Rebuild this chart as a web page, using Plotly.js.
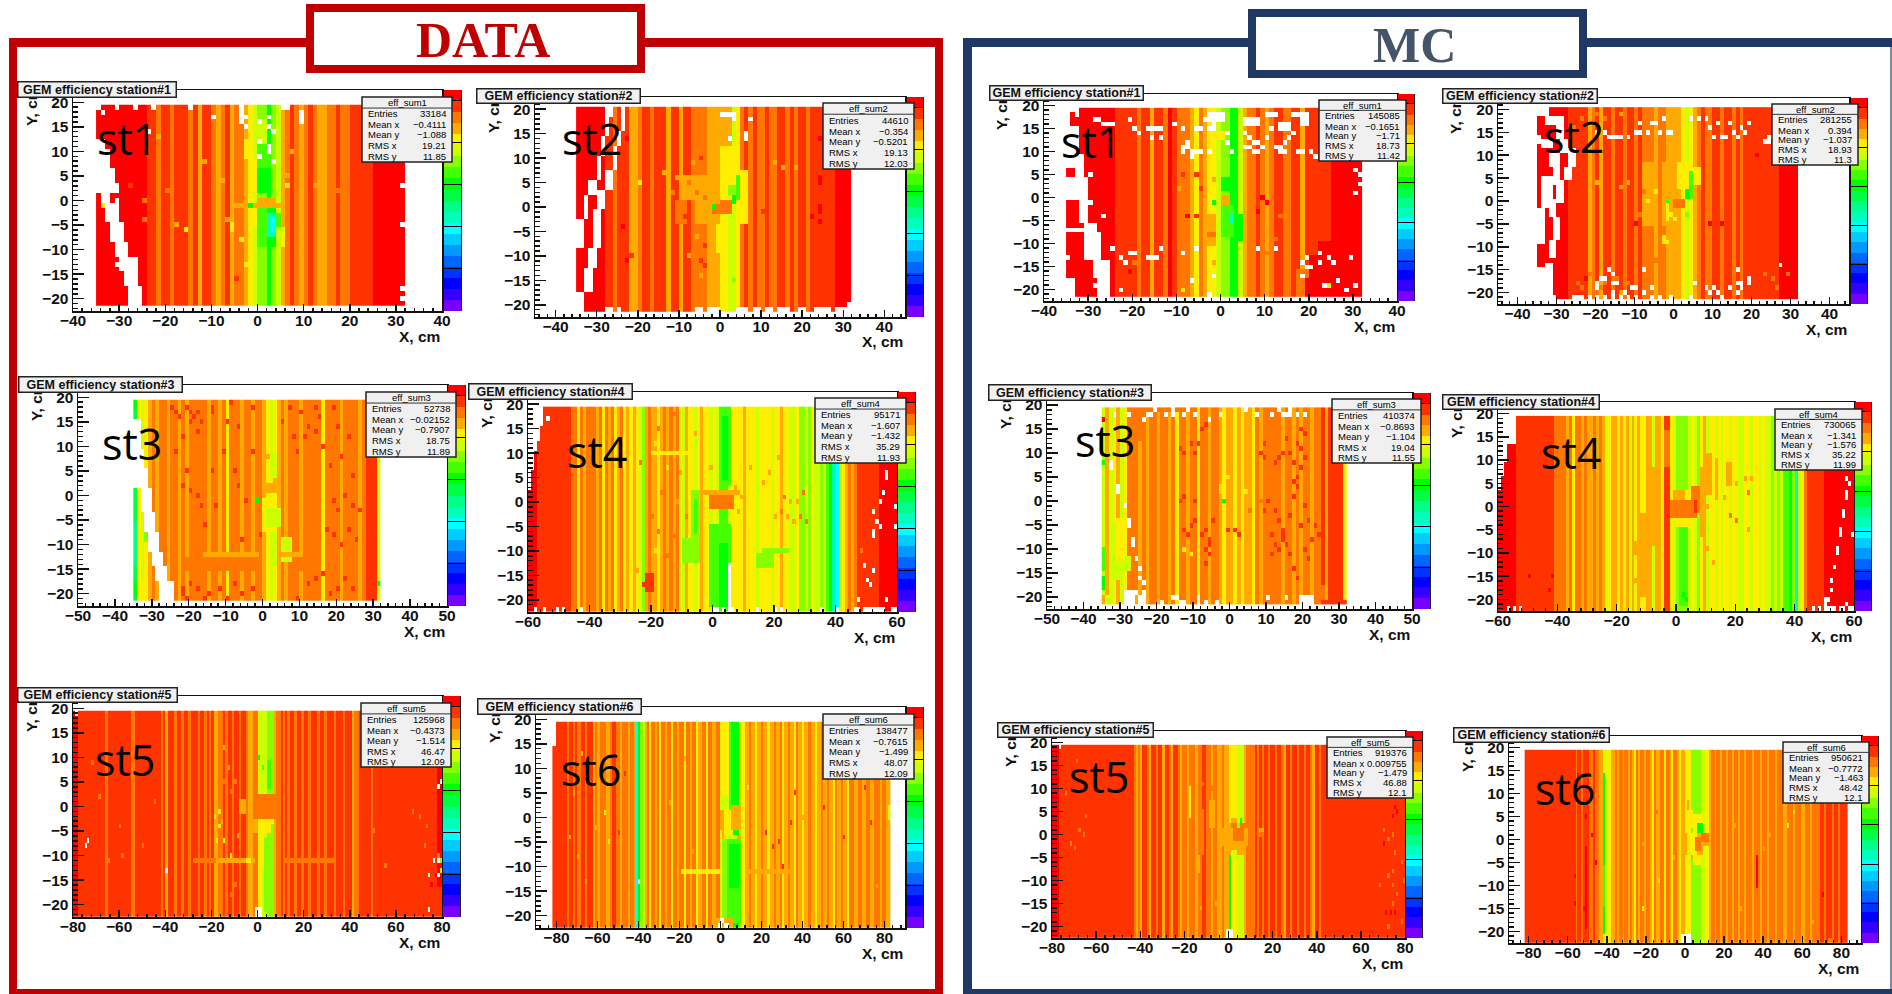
<!DOCTYPE html>
<html><head><meta charset="utf-8">
<script src="https://cdn.plot.ly/plotly-3.0.1.min.js"></script>
<style>html,body{margin:0;padding:0;background:#fff}#c{width:1892px;height:994px}</style>
</head><body><div id="c"></div>
<script>
// efficiency values of the 20 palette levels
const R=1.02,Q=.97,O=.92,A=.865,Y=.81,L=.76,M=.705,N=.655,G=.60,H=.55,J=.50,K=.445,C=.39,W=null;
const paletteColors=['#7700ff','#3300ff','#0000ff','#0033ff','#0066ff','#0099ff','#00ccff','#00ffff','#00ffbb','#00ff88','#00ff44','#00ff00','#44ff00','#88ff00','#ccff00','#ffee00','#ffaa00','#ff7700','#ff3300','#ff0000'];
const effMax=1.05;

// ---- DATA station 1
const d1Strips=[-35,R,-24,Q,-22,O,-21,Q,-19,O,-18,Q,-15,O,-14,Q,-13,A,-12,Q,-10,O,-9,A,-8,O,-7,Q,-6,A,-5,O,-3,A,-2,Y,-1,L,0,M,2,G,3,M,4,L,5,A,6,O,7,Q,8,O,9,A,10,O,11,Q,12,O,13,A,15,O,17,Q,18,O,20,Q,25,R];
const d1Patches=[[-35,-35,2,12,W],[-34,-34,2,12,W],[-33,-33,2,10,W],[-32,-32,2,6,W],[-31,-31,2,3,W],[-34,-33,0,1,W],[-31,-31,0,0,W],[-33,-31,-4,-1,W],[-32,-30,-8,-5,W],[-31,-29,-11,-9,W],[-30,-27,-14,-12,W],[-29,-27,-17,-15,W],[-28,-26,-21,-18,W],
[-6,5,-1,-1,A],[0,2,-1,0,O],[0,1,-9,-2,N],[2,3,-9,-2,G],[4,4,-7,-3,N],[2,3,-7,-3,K],[3,3,-6,-4,C],[-2,-1,-5,-2,Y],[4,5,-8,-6,L],[5,5,-9,-7,Y],[0,2,2,6,G],[0,2,7,11,N],[-2,-1,2,8,Y],[0,1,12,16,L],[-3,-2,9,12,Y],[0,3,-1,0,A],[9,9,16,18,W],[5,6,19,19,W],[-31,-31,19,19,W],[-27,-27,19,19,W],[-23,-23,19,19,W],[-15,-15,19,19,W],[-4,-4,17,19,W],[-35,-35,19,19,W]];
const d1Dots=[-34,-1,Y,-16,-6,Y,-2,-1,G,-6,-6,Y,-6,-5,Y,-24,14,Q,-22,13,A,-22,5,O,-20,2,O,-18,-5,A,-12,8,A,-9,5,A,-8,4,A,-7,-4,A,-4,-8,Y,-3,-13,Y,7,10,A,6,5,A,6,3,Y,8,1,O,8,-6,O,12,3,A,15,-1,O,16,-5,O,17,2,O,-11,-14,Q,-5,-16,Q,-28,3,Q,-25,0,O,-25,-4,O];
const d1Holes=[-34,18,-10,17,-3,17,-4,16,-3,15,2,17,0,16,2,15,3,14,0,12,2,11,2,10,0,9,3,8,-24,14,-31,-13,31,3,31,-5,31,-18,31,-20];
// ---- DATA station 2
const d2Strips=[-35,R,-28,Q,-26,O,-25,Q,-22,A,-20,O,-19,Q,-17,O,-16,Q,-13,A,-12,Q,-10,A,-9,Q,-7,O,-5,O,-3,A,0,Y,2,L,4,Y,5,O,6,Q,7,O,8,Q,9,O,10,O,11,Q,12,O,14,Q,16,O,17,Q,18,O,19,Q,21,O,22,Q,28,R];
const d2Patches=[[-28,-27,19,20,W],[-24,-24,16,20,W],[-28,-28,15,18,W],[-25,-25,13,15,W],[-29,-29,11,14,W],[-26,-26,8,12,W],[-30,-30,6,10,W],[-28,-27,4,7,W],[-32,-31,3,5,W],[-30,-29,0,3,W],[-33,-33,-2,2,W],[-31,-30,-8,-1,W],[-35,-34,-8,-3,W],[-32,-31,-12,-9,W],[-33,-32,-17,-13,W],[-35,-34,-21,-18,W],
[-6,-3,-3,6,A],[-9,-7,2,6,A],[-11,-9,-3,1,O],[-2,-1,-1,0,O],[0,2,-1,1,O],[3,4,2,6,N],[3,3,1,4,G],[2,3,3,4,M],[0,3,5,12,Y],[5,6,-3,7,Y],[0,2,13,20,A],[-1,1,-9,-4,Y],
[0,2,19,19,W],[3,3,18,19,W],[-28,-27,-21,-21,W],[-25,-25,-21,-21,W],[-6,-5,-21,-21,W],[-3,-1,-21,-21,W],[4,6,-21,-21,W],[8,9,-21,-21,W],[11,12,-21,-21,W],[14,16,-21,-21,W],[19,20,-21,-21,W],[23,26,-21,-21,W],[28,31,-21,-21,W],[31,31,-20,-20,W]];
const d2Dots=[-2,0,G,3,-15,M,-20,5,Y,-23,-8,Q,-23,-9,Q,-22,-10,Q,-23,-11,R,-5,10,Q,22,6,Q,24,6,R,24,5,R,24,0,R,24,-1,R,24,-3,R,22,-2,R,-24,-4,R,-19,-5,Q,-9,-2,Q,-4,-8,Q,-4,-12,Q,-5,-11,Q,13,9,A,15,8,A,18,8,A,-8,5,O,-6,3,O,-4,2,O,10,-1,Q,8,-2,Q,24,14,R,-23,14,R,-14,7,A,-12,3,O,-11,6,A,-10,9,A,-7,9,A,-3,-6,A,-6,-6,A,-8,-10,A,-5,-14,A,-2,-16,A,-1,-12,A];
const d2Holes=[7,18,6,15,6,14,2,14];
// ---- DATA station 3
const d3Strips=[-35,H,-34,Y,-33,L,-32,Y,-31,A,-30,O,-29,A,-28,O,-26,A,-25,O,-23,A,-22,O,-21,A,-20,O,-15,A,-14,O,-12,A,-11,O,-10,Y,-9,O,-6,A,-5,O,-3,A,-2,O,0,A,1,Y,2,L,3,Y,4,A,5,O,6,A,7,O,10,A,11,O,16,Y,17,O,21,A,22,O,26,A,27,O,28,Q,31,L];
const d3Patches=[[-35,-34,2,15,W],[-33,-33,2,9,W],[-32,-32,2,5,W],[-33,-31,-3,1,W],[-32,-30,-7,-4,W],[-31,-29,-11,-8,W],[-30,-28,-14,-12,W],[-29,-27,-17,-15,W],[-28,-25,-21,-18,W],
[-22,-3,-15,-13,O],[-16,-2,-12,-12,A],[0,3,-7,-1,Y],[1,4,-6,-3,L],[2,3,-14,-8,L],[1,3,1,8,A],[1,2,3,7,Y],[2,3,4,8,L],[5,7,-13,-9,L],[8,15,-15,-13,O],[5,10,-12,-12,A],[-34,-33,-21,-18,Y],[-35,-35,-20,-18,G],[-35,-35,-14,-6,J],[-35,-35,18,19,G]];
const d3Dots=[-2,-1,G,31,-18,G,-32,-9,M,-32,-8,M,-25,18,Q,-24,17,Q,-23,16,Q,-21,18,Q,-20,17,Q,-19,16,Q,-20,15,Q,-18,13,Q,-18,17,Q,-17,15,Q,-14,17,Q,-14,18,Q,-10,15,Q,-9,19,Q,-7,14,Q,-3,18,Q,-22,12,Q,-24,9,Q,-21,5,Q,-18,0,Q,-17,-2,Q,-22,2,Q,-20,1,Q,-16,-6,Q,-13,-2,Q,-14,5,Q,-11,9,Q,-8,5,Q,-7,2,Q,-5,-1,Q,-6,-9,Q,-3,9,Q,-1,-8,Q,8,12,Q,9,9,Q,11,12,Q,12,14,Q,14,13,Q,16,10,Q,18,6,Q,20,14,Q,21,8,Q,23,12,Q,24,4,Q,19,-1,Q,20,-3,Q,22,0,Q,24,-2,Q,26,-3,Q,17,-7,Q,19,-8,Q,21,-10,Q,23,-7,Q,25,-9,Q,12,-18,Q,14,-17,Q,16,-16,Q,18,-20,Q,20,-19,Q,22,-17,Q,24,-19,Q,-22,-20,Q,-20,-18,Q,-18,-19,Q,-15,-20,Q,-12,-19,Q,-10,-21,Q,-8,-18,Q,-6,-20,Q,-3,-19,Q,9,-21,Q,-22,-19,Q,-21,-21,Q,-16,-21,Q,5,15,Q,7,18,Q,10,17,Q,14,18,Q,15,16,Q,19,18,Q];
const d3Holes=[];
// ---- DATA station 4
const d4Strips=[-60,R,-57,Q,-46,O,-44,Y,-43,O,-42,A,-41,O,-38,A,-37,O,-36,Y,-35,O,-34,A,-33,O,-32,Y,-31,A,-30,O,-29,Y,-28,A,-27,Y,-26,A,-25,Y,-24,L,-23,M,-22,A,-21,O,-20,A,-18,Y,-17,A,-16,O,-15,A,-14,O,-13,A,-12,O,-11,Y,-10,L,-9,A,-8,Y,-6,L,-5,Y,-4,A,-3,Y,-1,L,0,Y,1,L,2,N,5,L,6,Y,10,A,11,Y,14,L,15,Y,19,L,20,Y,22,A,23,Y,25,L,27,Y,28,M,30,L,31,M,32,Y,33,L,35,M,36,L,37,N,38,G,39,K,40,C,41,L,42,Y,43,A,44,O,45,A,46,O,47,Q,54,R];
const d4Patches=[[-60,-56,16,19,W],[-60,-57,13,15,W],[-60,-58,11,12,W],[-60,-59,7,10,W],[-60,-60,3,6,W],
[-1,6,-1,1,O],[-3,8,2,2,A],[2,5,4,19,N],[3,4,5,17,G],[-1,5,-21,-5,N],[2,4,-21,-9,G],[-7,-5,-12,2,M],[-6,-6,-6,0,N],[-10,-7,-12,-8,M],[14,19,-13,-11,M],[16,24,-10,-10,M],[5,5,-21,-13,W],[-20,-8,10,10,Y],[-22,-20,-18,-15,Q]];
const d4Dots=[-25,-14,A,-23,-17,Q,-22,-16,Q,-20,-12,A,-19,-10,Y,-24,8,O,-18,15,O,-13,18,O,-6,14,A,-1,7,A,10,5,A,12,7,A,16,4,A,18,6,A,21,9,A,23,1,O,25,0,A,27,0,A,29,2,O,30,-4,O,28,-3,O,32,8,Y,48,-10,O,50,-15,Q,53,8,Q,51,-12,Q,-20,-3,O,-18,-6,O,-17,2,O,-15,7,Y,-13,-7,O,-12,0,A,-11,6,A,-9,-3,O,-19,12,Y,-15,-11,O,8,-2,A,9,1,A,7,3,A,20,-3,A,22,-2,O,24,-3,A,26,-4,A];
const d4Holes=[-54,17,56,5,56,6,55,2,54,0,59,-1,52,-2,53,-4,54,-5,59,-5,52,-6,52,-7,49,-13,52,-14,50,-16,51,-17,47,-20,56,-20,-58,-22,-55,-22,-51,-22,-49,-22,-43,-22,0,-22,1,-22,3,-22,5,-22,6,-22,14,-22,20,-22,22,-22,35,-22,40,-22,46,-22,47,-22,49,-22,50,-22,51,-22,52,-22,53,-22,54,-22,55,-22,58,-22,59,-22];
// ---- DATA station 5
const d5Strips=[-80,R,-78,Q,-67,Q,-66,O,-65,Q,-55,O,-53,Q,-42,O,-41,Q,-40,A,-39,Q,-36,O,-35,Q,-33,O,-32,Q,-30,O,-29,Q,-26,O,-25,Q,-23,O,-22,Q,-21,O,-20,Q,-19,A,-17,O,-15,Q,-14,O,-13,Q,-11,O,-10,Q,-8,O,-7,Q,-5,O,-4,A,-2,O,0,Y,2,L,4,M,7,A,8,O,10,Q,11,O,12,Q,13,O,14,Q,16,O,17,Q,19,O,20,Q,22,O,23,Q,26,O,27,Q,29,O,30,Q,33,O,34,Q,37,O,38,Q,41,A,42,O,44,Q,49,O,50,Q,78,R];
const d5Patches=[[0,7,-2,2,O],[0,7,3,3,A],[0,1,3,19,L],[2,3,3,19,L],[4,6,3,19,M],[4,5,4,9,N],[0,6,-3,-3,Y],[3,5,-5,-3,Y],[-2,-1,-5,-3,A],[-28,-1,-11,-11,O],[-18,-2,-11,-11,A],[12,32,-11,-11,O],[-1,1,-22,-21,W],[-19,-19,7,12,A],[-8,-6,-1,1,A],[0,2,-12,-4,Y],[0,0,-11,-5,L],[3,6,-21,-7,M],[78,79,-22,-17,Q],[72,76,-22,-14,Q]];
const d5Dots=[-19,-2,Y,-17,-4,Y,-18,-7,Y,-15,-7,Y,-12,-10,Y,-5,-11,Y,-4,-11,Y,0,-8,L,0,10,G,2,8,N,-72,9,O,-69,2,O,-60,-4,O,-59,-10,O,-65,-11,O,-50,-8,O,-45,1,O,-15,12,A,-13,8,A,-10,5,O,-16,4,O,-9,-6,A,-14,-15,O,-12,-18,O,-10,-16,O,50,-5,O,55,-12,O,67,-1,O,70,-2,O,73,-4,O,78,-10,O,79,-11,M,79,-13,Y,74,-14,R,75,-16,R,77,-14,R,72,-8,O,-18,2,A,-17,-1,Y,-16,-3,A,-15,5,O,-12,3,O];
const d5Holes=[-74,-7,-75,-8,-40,-13,78,-11,76,-11,74,-14,78,-14,79,5,78,4,74,-21,-79,19];
// ---- DATA station 6
const d6Strips=[-82,Q,-75,O,-74,Q,-72,O,-71,Q,-70,O,-68,Q,-66,O,-65,Q,-62,A,-61,O,-60,A,-59,O,-56,A,-54,O,-53,Q,-51,O,-49,A,-48,O,-45,A,-44,O,-42,A,-41,C,-40,G,-39,M,-38,L,-37,A,-36,O,-35,Y,-34,O,-32,A,-31,O,-30,Y,-29,O,-27,A,-26,O,-24,Y,-23,O,-21,A,-20,O,-18,Y,-17,O,-15,A,-14,O,-12,Y,-11,A,-9,O,-7,Y,-6,O,-4,A,-2,O,0,Y,1,A,2,L,4,N,5,G,9,L,10,Y,12,A,14,O,15,A,17,Y,18,A,20,O,21,A,23,Y,24,A,26,O,27,A,29,O,30,Y,31,A,33,O,34,A,36,Y,37,O,38,A,40,Y,41,A,43,O,44,A,46,Y,47,A,49,O,50,A,52,O,53,A,55,Y,56,O,57,A,59,O,60,A,62,Y,63,O,65,A,67,O,69,A,71,O,73,A,75,O,78,A,79,O,81,A];
const d6Patches=[[-82,-81,15,19,W],[-82,-82,15,19,W],[0,9,-2,1,A],[2,5,-4,1,Y],[5,9,-2,2,A],[0,3,2,19,Y],[0,3,2,4,L],[1,3,-21,-5,M],[3,9,-21,-5,N],[4,8,-14,-6,G],[3,3,-4,-3,L],[4,7,-4,-4,L],[8,9,-4,-4,A],[-19,-1,-11,-11,Y],[14,34,-11,-11,A],[-2,5,-22,-21,A],[-1,0,-22,-22,W],[0,1,-21,-21,W],[2,3,-22,-22,W],[82,82,0,2,L]];
const d6Dots=[-74,-4,A,-72,5,A,-70,-8,A,-68,13,A,-66,-13,A,-64,7,A,-61,-2,A,-57,1,Y,-55,-5,Y,-52,-17,Q,-50,-3,Q,-47,9,Q,-3,9,A,-18,12,A,-25,3,A,-14,-7,A,13,6,Y,22,-3,Q,25,-6,Q,28,-5,Q,30,-10,Q,34,-1,Q,36,5,Q,40,0,A,45,8,A,50,2,Q,60,-4,Q,65,-8,A,70,6,Q,73,-1,Q,76,-14,A];
const d6Holes=[-40,-13];
// ---- MC station 1
const m1Strips=[-35,R,-24,Q,-19,O,-18,Q,-16,A,-15,Q,-13,O,-12,R,-11,Q,-10,O,-7,A,-6,Y,-5,O,-4,A,-3,Y,-1,L,0,M,2,G,4,L,5,A,6,O,8,Q,9,O,10,A,11,O,12,Q,14,O,16,Q,18,A,19,Q,25,R];
const m1Patches=[[-35,-33,19,19,W],[-35,-35,7,18,W],[-35,-34,7,15,W],[-33,-33,5,15,W],[-32,-32,5,9,W],[-32,-31,-1,4,W],[-35,-31,0,4,W],[-32,-31,-5,-2,W],[-31,-30,-1,-1,W],[-31,-29,-7,-6,W],[-35,-30,-7,-7,W],[-31,-28,-13,-8,W],[-29,-26,-17,-14,W],[-28,-26,-21,-18,W],[-35,-34,-21,-18,W],[-35,-35,-13,-13,W],
[-3,0,17,18,W],[-2,-2,15,18,W],[5,8,16,17,W],[10,12,18,18,W],[13,15,15,16,W],[16,19,18,18,W],[18,19,16,17,W],[-2,0,13,14,Y],[0,2,2,5,G],[0,1,5,10,M],[-3,-2,-1,1,Y],[0,1,-1,0,A],[2,3,-7,-1,G],[2,4,-9,-4,G],[-4,-2,-10,-4,A],[0,2,-8,-2,N],[25,31,-21,-10,R],[22,25,-21,-10,R],[20,21,-21,-13,R],[17,19,-21,-16,O],[19,31,-21,-18,R]];
const m1Dots=[-2,-1,G,2,-5,K,2,-4,K,24,-19,L,-2,4,A,-2,-8,O,-3,-8,O,-6,5,Q,-5,2,Q,-9,5,Q,-10,2,A,8,-3,R,-6,-4,Q,-8,-4,R,-20,-14,O,-21,-16,R,-19,-17,O,-10,-19,O,-9,-20,Y,-2,-14,A,-6,-14,Y,9,0,R,10,-1,R,13,-4,O,15,-4,O,12,-9,O,10,-12,O];
const m1Holes=[-33,18,-29,17,-28,17,-27,16,-26,16,-25,16,-21,17,-20,15,-19,14,-16,15,-15,15,-14,15,-11,16,-9,15,-6,15,-5,15,-4,17,-3,15,-17,15,-16,13,-14,13,-9,11,-9,10,-8,12,-8,11,-7,10,-6,10,-7,9,-5,10,-3,10,1,14,1,12,2,10,5,14,6,13,5,11,6,11,7,10,8,10,7,12,8,12,9,11,10,13,11,15,12,11,13,11,13,10,14,12,15,13,16,14,17,10,18,10,14,10,20,10,21,9,30,6,31,5,30,1,31,3,-27,-4,-30,5,-21,-12,-20,-12,-17,-13,-16,-13,-15,-13,-23,-13,-25,-11,-22,-14,-14,-11,-9,-12,-7,-18,-6,-11,-2,-17,8,-11,12,-11,18,-14,19,-13,19,-15,20,-15,22,-14,22,-12,24,-13,25,-14,29,-13,18,-17,26,-18,28,-20,30,-19,23,-19,-29,-19,-23,-20,-3,-21,1,-22];
// ---- MC station 2
const m2Strips=[-35,R,-27,Q,-22,A,-21,O,-20,Q,-19,A,-18,Q,-16,O,-15,Q,-13,O,-12,Q,-10,O,-9,Q,-8,O,-5,A,-4,O,-2,A,0,A,1,A,2,Y,3,L,4,Y,5,A,6,O,7,Q,8,O,10,Q,12,O,13,Q,15,O,16,Q,17,O,18,Q,20,Q,27,R];
const m2Patches=[[-35,-33,20,20,W],[-35,-33,19,19,W],[-33,-32,17,18,W],[-31,-29,17,18,W],[-30,-29,14,16,W],[-34,-32,12,13,W],[-35,-35,13,14,W],[-29,-28,11,13,W],[-32,-30,8,10,W],[-27,-26,8,11,W],[-31,-30,4,7,W],[-28,-27,5,7,W],[-34,-32,1,5,W],[-30,-29,0,4,W],[-34,-33,-1,0,W],[-32,-31,-3,0,W],[-35,-34,-2,-2,W],[-35,-34,-9,-3,W],[-31,-30,-8,-4,W],[-32,-31,-12,-9,W],[-33,-32,-21,-14,W],[-35,-34,-21,-15,W],[-31,-31,-21,-21,W],
[-8,-5,-5,8,A],[-3,-1,-5,8,A],[3,4,1,6,N],[3,3,1,3,G],[1,3,3,8,Y],[5,6,4,7,Y],[0,2,-1,0,O],[-2,-1,0,0,A],[-2,-2,-4,0,Y],[-1,-1,-3,-3,Y],[20,27,-21,-15,Q],[27,31,-21,-15,R]];
const m2Dots=[-2,0,N,3,-3,M,-3,-9,Y,-2,-9,Y,0,-4,Y,-9,-3,O,-7,0,Y,-5,2,Y,-8,2,O,21,10,R,-3,-8,Y,-6,-12,O,-5,-13,O,-10,-5,R,-12,4,A,-20,4,A,-14,3,A,9,-5,R,12,-5,R,-25,-18,O,-23,-17,R,-20,-20,O,-18,-18,O,23,-16,O,25,-17,O,26,-19,O,29,-16,O,-24,-19,O,-22,-16,O,-19,-19,O,-15,-17,O,-14,-20,A,-12,-18,O,-26,16,O,-24,18,O,-22,17,A,-20,19,O,-18,18,O,-16,17,O,-14,19,A];
const m2Holes=[-17,-15,-16,-16,-18,-17,-16,-18,-15,-18,-16,-20,-19,-17,-20,-19,-20,-18,-26,-21,-25,-21,-24,-21,-22,-21,-20,-21,-18,-21,-16,-21,-14,-21,-12,-21,-10,-21,-6,-21,-8,-20,-11,-19,-13,-20,-8,-15,-10,-19,-6,-19,-1,-21,-4,-21,4,-21,5,-18,8,-19,9,-20,10,-19,11,-20,12,-21,16,-15,16,-18,17,-18,17,-19,19,-17,19,-18,14,-19,16,-20,27,-14,-3,18,-1,15,4,18,6,18,8,18,9,16,10,14,11,17,12,14,13,14,14,17,15,15,16,14,17,16,18,15,19,17,-9,17,-7,15,-6,17,-5,17,-4,15,-2,15,-20,15,-18,15,-17,14,-16,14,-15,14,-14,14,-12,14,-10,15,-9,15,23,13,24,13,24,14,25,14,26,14,27,14];
// ---- MC station 3
const m3Strips=[-35,L,-34,A,-33,L,-32,Y,-31,A,-30,L,-29,Y,-28,O,-26,O,-25,A,-24,O,-23,A,-22,O,-20,A,-19,O,-17,A,-16,O,-15,Y,-14,O,-12,A,-11,O,-9,Y,-8,O,-6,A,-5,O,-3,A,-2,Y,-1,A,0,A,1,Y,2,A,3,Y,4,A,6,Y,7,O,8,A,9,O,14,A,15,O,17,A,18,O,19,A,20,O,22,A,23,O,25,Q,26,A,27,Q,31,Y];
const m3Patches=[[-35,-35,17,17,R],[-35,-35,-21,-20,A],[-34,-33,-21,-20,L],[-28,-26,-21,-19,A],[-27,-26,-19,-19,W],[-24,-24,-21,-19,W],[-25,-25,-21,-20,W],[-29,-27,-21,-19,W],[-29,-28,-14,-12,L],[-32,-31,-16,-5,L],[-31,-30,-12,-4,Y],[-35,-35,8,8,G],[-35,-35,-14,-10,N],[-35,-35,-18,-16,G],[-26,-25,13,19,O],[-24,-14,19,19,O],[24,26,-21,-21,O],[19,22,-21,-20,W],[25,31,-21,-21,Q],[24,25,-20,-18,O]];
const m3Dots=[-2,0,G,2,3,A,4,2,Y,-3,2,Y,-3,3,Y,-2,4,Y,-1,5,Y,-2,-5,Y,-13,-10,Y,-11,-11,Y,-10,-11,O,-13,1,Q,-14,0,Q,-10,0,Q,-12,-7,Q,-13,-6,Q,-11,-5,Q,-14,-2,O,-8,-7,Q,-7,-6,Q,-6,-8,Q,-6,-9,Q,-7,-10,Q,-6,-11,Q,-7,-13,Q,-5,-4,Q,-10,-4,Q,-11,12,Q,-14,11,Q,-13,10,Q,-10,10,Q,-9,12,Q,-8,15,Q,-7,16,Q,2,-7,Q,1,-6,Q,-1,-6,Q,5,-2,O,8,0,O,9,-2,Q,10,0,Q,12,-2,Q,13,-4,Q,14,-6,Q,14,-7,Q,15,-9,Q,16,-3,Q,17,1,Q,18,3,Q,17,4,Q,18,5,Q,19,7,Q,20,9,Q,15,13,Q,16,10,Q,17,8,Q,18,12,Q,19,11,Q,19,15,Q,20,14,Q,9,12,Q,9,9,Q,8,10,Q,12,8,Q,13,9,Q,14,10,Q,20,-1,Q,21,-4,Q,23,-5,Q,24,-7,Q,20,-10,Q,21,-12,Q,22,-8,Q,11,-7,Q,12,-9,Q,13,-10,Q,14,-8,Q,11,-11,Q,16,-11,Q,17,-14,Q,18,-16,Q,19,-5,Q];
const m3Holes=[-33,8,-33,7,-31,3,-31,2,-29,-1,-28,-4,-28,-5,-27,-8,-27,-9,-26,-12,-25,-14,-25,-16,-24,-17,-32,18,-28,18,-24,17,-23,18,-22,18,-21,19,-18,18,-16,19,-16,18,-13,18,-12,19,-10,18,-6,17,-3,18,4,19,7,18,11,18,13,19,14,18,15,18,16,19,16,18,18,18,20,18,-19,-21,-15,-20,-14,-21,-9,-21,-9,-20,-7,-21,-4,-21,10,-20,15,-20,-16,-20,-13,-21];
// ---- MC station 4
const m4Strips=[-60,R,-54,Q,-41,O,-37,A,-36,O,-35,Y,-34,O,-32,A,-31,O,-30,A,-28,O,-27,A,-26,O,-25,A,-24,L,-23,Y,-22,A,-20,Y,-19,A,-18,Y,-17,A,-16,L,-15,A,-14,Y,-13,A,-12,Y,-10,A,-8,L,-7,A,-5,Y,-4,Q,-2,Y,-1,L,0,M,4,L,5,Y,6,L,7,M,8,Y,9,A,10,L,11,Y,13,L,14,Y,15,L,16,Y,18,L,19,Y,21,L,23,Y,25,L,26,Y,28,L,29,Y,30,L,32,M,33,L,34,M,35,L,36,N,38,G,39,M,40,K,41,L,42,Y,43,O,44,Q,50,R];
const m4Patches=[[-60,-55,14,19,W],[-60,-56,14,19,W],[-60,-58,10,13,W],[-60,-59,7,9,W],[-60,-60,4,6,W],[-4,-3,9,16,O],[0,5,-4,3,Y],[-2,6,-2,1,O],[-1,2,2,3,A],[5,7,-1,4,O],[6,6,-1,1,Q],[1,3,-21,-5,N],[8,9,-6,8,A],[10,11,3,11,A],[13,13,2,10,A],[17,18,5,9,A],[-14,-13,-10,-8,A],[-8,-8,-8,8,A],[-6,-6,-8,8,A],[-12,-11,-19,-2,A]];
const m4Dots=[-42,-15,R,-43,-18,R,-50,-15,R,-57,-12,R,3,-20,G,2,-19,G,12,-12,A,10,-9,A,18,-2,O,20,-3,O,24,-5,A,24,3,O,25,6,A,23,6,A,20,5,A,16,2,A,10,0,A,-13,-13,A,-14,-16,A,-6,4,A];
const m4Holes=[57,6,58,5,57,3,57,2,56,-1,56,-2,55,-5,55,-6,54,-9,54,-10,59,-6,53,-13,52,-16,52,-18,50,-20,51,-20,50,-21,57,-21,50,-22,51,-22,52,-22,53,-22,55,-22,56,-22,58,-22,59,-22,46,-22,48,-22,-55,-22,-53,-22,-57,-22];
// ---- MC station 5
const m5Strips=[-80,R,-77,Q,-43,O,-42,A,-41,O,-40,A,-39,Q,-37,O,-36,A,-35,Q,-33,O,-32,Q,-30,A,-29,Q,-27,O,-26,A,-25,Q,-23,O,-22,A,-21,O,-19,A,-18,O,-15,A,-14,O,-12,Q,-10,O,-8,A,-7,O,-5,A,-3,O,-2,A,0,G,1,Y,4,L,7,A,8,O,12,Q,13,O,14,Q,15,O,16,Q,18,O,19,Q,21,O,22,Q,24,O,25,A,26,Q,28,O,29,Q,31,O,32,Q,34,O,35,Q,37,O,38,A,39,Q,41,O,42,Q];
const m5Patches=[[0,7,-2,2,O],[1,7,-3,-3,A],[0,0,-4,4,A],[0,3,3,3,A],[0,0,3,19,Y],[4,5,-5,-3,Y],[2,3,-5,-4,L],[-3,8,-2,1,A],[2,6,-1,2,O],[4,6,-7,-3,A],[4,6,-8,-5,L],[-1,1,-22,-21,W],[-9,-9,2,7,A],[-7,-7,2,7,A],[-18,-18,4,10,Y],[-12,-12,-4,5,O],[-10,-10,-4,5,O],[-40,-40,-21,10,A],[-15,-14,-8,-5,A]];
const m5Dots=[5,3,G,4,2,M,14,1,A,15,1,A,14,0,O,-15,-13,A,-13,-16,A,-9,-10,O,-7,-12,O,-6,-15,A,-5,8,A,-8,10,O,-12,11,O,-10,-6,O,-72,-2,O,-70,-3,O,-68,1,O,-66,0,O,-74,9,O,-71,13,O,-69,16,O,-65,4,O,72,-1,O,74,0,O,70,1,O,75,-4,O,72,-9,O,74,-11,O,76,-13,O,71,-17,R,73,-17,R,75,-17,R,74,-15,O,72,-20,O,78,-19,O,76,5,R,74,4,R,75,6,R,68,-11,O,79,-10,O,74,-8,O,78,-6,O,70,-2,R];
const m5Holes=[-77,19];
// ---- MC station 6
const m6Strips=[-82,Q,-56,O,-55,Q,-53,O,-52,Q,-49,O,-47,Q,-46,O,-44,A,-42,Y,-41,L,-40,Y,-38,A,-36,O,-35,A,-34,O,-32,A,-31,O,-29,A,-28,O,-27,A,-26,Y,-25,O,-24,A,-23,O,-21,A,-20,O,-18,A,-17,Y,-16,O,-15,A,-13,O,-11,Y,-10,O,-8,A,-7,Y,-6,O,-4,A,-3,Y,-2,A,0,Y,2,Y,3,M,8,L,10,Y,12,A,13,O,15,A,16,O,18,A,19,O,21,A,22,O,24,A,25,O,27,A,28,O,30,A,31,O,34,A,35,O,38,A,39,O,42,A,43,O,46,A,47,O,50,A,52,O,55,A,56,O,59,A,61,O,64,A,65,O,69,Q,71,O,72,Q,73,O,76,Q,78,O,79,Q];
const m6Patches=[[-41,-41,-20,18,L],[-42,-42,-20,14,G],[-42,-42,-14,-6,N],[0,8,-3,1,A],[1,5,-3,1,Y],[5,7,-2,0,O],[4,8,2,5,Y],[6,8,2,3,G],[1,3,3,6,Y],[1,2,-5,-3,L],[3,7,-4,-4,A],[8,12,-1,1,A],[8,11,0,1,O],[4,7,-5,-4,Y],[0,1,-21,-4,Y],[-2,2,-22,-21,W],[36,36,-10,-4,R],[-51,-51,-19,-2,R],[72,74,-21,14,Q]];
const m6Dots=[1,8,A,1,7,A,-8,0,A,-6,-4,A,-15,6,O,-14,-9,Y,-22,-1,A,14,4,O,25,3,A,40,-2,A,43,1,A,52,3,Y,55,6,Y,-55,14,R,-57,-14,R,-57,-8,R,-51,5,R,-52,-15,R,-46,-5,R,-48,1,R,60,-3,A,65,-18,A,70,-12,R,28,-15,A,-29,10,A,-22,-15,Y];
const m6Holes=[];

// ---- titles and stat box readings
const stationNames=['GEM efficiency station#1','GEM efficiency station#2','GEM efficiency station#3','GEM efficiency station#4','GEM efficiency station#5','GEM efficiency station#6'];
const statLabels=['Entries','Mean x','Mean y','RMS x','RMS y'];
const dataEntries=['33184','44610','52738','95171','125968','138477'];
const dataMeanX=['−0.4111','−0.354','−0.02152','−1.607','−0.4373','−0.7615'];
const dataMeanY=['−1.088','−0.5201','−0.7907','−1.432','−1.514','−1.499'];
const dataRmsX=['19.21','19.13','18.75','35.29','46.47','48.07'];
const dataRmsY=['11.85','12.03','11.89','11.93','12.09','12.09'];
const mcEntries=['145085','281255','410374','730065','919376','950621'];
const mcMeanX=['−0.1651','0.394','−0.8693','−1.341','0.009755','−0.7772'];
const mcMeanY=['−1.71','−1.037','−1.104','−1.576','−1.479','−1.463'];
const mcRmsX=['18.73','18.93','19.04','35.22','46.88','48.42'];
const mcRmsY=['11.42','11.3','11.55','11.99','12.1','12.1'];

// ---- page layout (pixels on the page)
const W_PX=1892,H_PX=994;
const px=x=>x/W_PX, py=y=>1-y/H_PX;
const panels=[
{n:0,mc:0,xr:40,dx:10,xb:[-35,32],yb:[-21,19],s:d1Strips,p:d1Patches,d:d1Dots,h:d1Holes,l:73,r:442,t:90,b:311,cb:[444,461],tb:[17,177,81,98],sb:[362,452,97,162],st:[127,138]},
{n:1,mc:0,xr:45,dx:10,xb:[-35,32],yb:[-21,20],s:d2Strips,p:d2Patches,d:d2Dots,h:d2Holes,l:535,r:905,t:97,b:317,cb:[907,923],tb:[476,641,88,104],sb:[823,914,103,169],st:[592,139]},
{n:2,mc:0,xr:50,dx:10,xb:[-35,32],yb:[-21,19],s:d3Strips,p:d3Patches,d:d3Dots,h:d3Holes,l:78,r:447,t:385,b:606,cb:[448,465],tb:[18,183,376,393],sb:[366,456,392,457],st:[132,443]},
{n:3,mc:0,xr:60,dx:20,xb:[-60,60],yb:[-22,19],s:d4Strips,p:d4Patches,d:d4Dots,h:d4Holes,l:528,r:897,t:392,b:612,cb:[898,915],tb:[468,633,383,400],sb:[815,906,398,463],st:[597,451]},
{n:4,mc:0,xr:80,dx:20,xb:[-80,80],yb:[-22,19],s:d5Strips,p:d5Patches,d:d5Dots,h:d5Holes,l:73,r:442,t:696,b:917,cb:[443,460],tb:[17,178,687,703],sb:[361,451,703,767],st:[125,759]},
{n:5,mc:0,xr:90,dx:20,xb:[-82,83],yb:[-22,19],s:d6Strips,p:d6Patches,d:d6Dots,h:d6Holes,l:536,r:905,t:707,b:928,cb:[907,923],tb:[477,642,698,715],sb:[823,914,714,779],st:[591,769]},
{n:0,mc:1,xr:40,dx:10,xb:[-35,32],yb:[-21,19],s:m1Strips,p:m1Patches,d:m1Dots,h:m1Holes,l:1044,r:1397,t:94,b:301,cb:[1398,1414],tb:[989,1144,85,101],sb:[1319,1406,100,161],st:[1091,142]},
{n:1,mc:1,xr:45,dx:10,xb:[-35,32],yb:[-21,20],s:m2Strips,p:m2Patches,d:m2Dots,h:m2Holes,l:1498,r:1849,t:98,b:304,cb:[1851,1867],tb:[1442,1598,88,104],sb:[1772,1858,104,165],st:[1574,137]},
{n:2,mc:1,xr:50,dx:10,xb:[-35,32],yb:[-21,19],s:m3Strips,p:m3Patches,d:m3Dots,h:m3Holes,l:1047,r:1412,t:393,b:609,cb:[1414,1430],tb:[988,1152,384,401],sb:[1332,1421,399,463],st:[1105,440]},
{n:3,mc:1,xr:60,dx:20,xb:[-60,60],yb:[-22,19],s:m4Strips,p:m4Patches,d:m4Dots,h:m4Holes,l:1498,r:1854,t:402,b:611,cb:[1855,1871],tb:[1442,1600,394,410],sb:[1775,1862,409,470],st:[1571,452]},
{n:4,mc:1,xr:80,dx:20,xb:[-80,80],yb:[-22,19],s:m5Strips,p:m5Patches,d:m5Dots,h:m5Holes,l:1052,r:1405,t:731,b:938,cb:[1406,1422],tb:[997,1154,722,738],sb:[1327,1413,737,798],st:[1099,776]},
{n:5,mc:1,xr:90,dx:20,xb:[-82,83],yb:[-22,19],s:m6Strips,p:m6Patches,d:m6Dots,h:m6Holes,l:1509,r:1861,t:736,b:943,cb:[1862,1878],tb:[1453,1610,727,743],sb:[1783,1869,742,803],st:[1565,788]}
];

const colorscale=[];
paletteColors.forEach((c,k)=>{colorscale.push([k/20,c]);colorscale.push([(k+1)/20,c]);});

function buildGrid(P){
  const xs=[],ys=[];
  for(let x=P.xb[0];x<P.xb[1];x++)xs.push(x);
  for(let y=P.yb[0];y<=P.yb[1];y++)ys.push(y);
  const col={};
  let idx=0;
  xs.forEach(x=>{
    while(idx+2<P.s.length&&P.s[idx+2]<=x)idx+=2;
    col[x]=P.s[idx+1];
  });
  const z=ys.map(()=>xs.map(x=>col[x]));
  const set=(x,y,v)=>{const i=y-P.yb[0],j=x-P.xb[0];if(i>=0&&i<ys.length&&j>=0&&j<xs.length)z[i][j]=v;};
  P.p.forEach(q=>{
    for(let x=q[0];x<=q[1];x++)for(let y=Math.min(q[2],q[3]);y<=Math.max(q[2],q[3]);y++)set(x,y,q[4]);
  });
  for(let i=0;i<P.d.length;i+=3)set(P.d[i],P.d[i+1],P.d[i+2]);
  for(let i=0;i<P.h.length;i+=2)set(P.h[i],P.h[i+1],null);
  return {x:xs.map(x=>x+.5),y:ys,z};
}

const traces=[],annotations=[],shapes=[],layout={};
const DARK='#111';
const boldFont=s=>({family:'Liberation Sans, Arial, sans-serif',size:s,color:'#111',weight:700});

function bar(x0,y0,x1,y1,c){shapes.push({type:'rect',xref:'paper',yref:'paper',x0:px(x0),x1:px(x1),y0:py(y0),y1:py(y1),fillcolor:c,line:{width:0},layer:'below'});}
const RED='#c00000',NAVY='#1f3864';
bar(9,38,17,994,RED);bar(9,38,943,47,RED);bar(935,38,943,994,RED);bar(9,989,943,994,RED);
bar(306,4,645,73,RED);bar(314,12,637,65,'#ffffff');
bar(963,38,972,994,NAVY);bar(963,38,1892,47,NAVY);bar(963,989,1892,994,NAVY);bar(1890,47,1892,989,'#7f8ba3');
bar(1248,9,1587,78,NAVY);bar(1256,17,1579,70,'#ffffff');
annotations.push({xref:'paper',yref:'paper',x:px(483),y:py(40),text:'<b>DATA</b>',showarrow:false,font:{family:'Liberation Serif, serif',size:50,color:RED},xanchor:'center',yanchor:'middle'});
annotations.push({xref:'paper',yref:'paper',x:px(1414),y:py(45),text:'<b>MC</b>',showarrow:false,font:{family:'Liberation Serif, serif',size:50,color:'#44546a'},xanchor:'center',yanchor:'middle'});

panels.forEach((P,i)=>{
  const a=2*i+1,b=2*i+2;
  const g=buildGrid(P);
  traces.push({type:'heatmap',x:g.x,y:g.y,z:g.z,xaxis:'x'+a,yaxis:'y'+a,colorscale,zmin:0,zmax:effMax,showscale:false,hoverinfo:'skip',xgap:0,ygap:0});
  layout['xaxis'+a]={domain:[px(P.l),px(P.r)],range:[-P.xr,P.xr],anchor:'y'+a,dtick:P.dx,tick0:0,ticks:'inside',ticklen:7,tickwidth:1.5,tickcolor:DARK,minor:{dtick:P.dx/5,ticks:'inside',ticklen:3,tickcolor:DARK,showgrid:false},showline:true,mirror:true,linecolor:DARK,linewidth:1.5,showgrid:false,zeroline:false,tickfont:boldFont(15.5),ticklabelstandoff:-5,fixedrange:true};
  layout['yaxis'+a]={domain:[py(P.b),py(P.t)],range:[-22.5,22.5],anchor:'x'+a,dtick:5,tick0:0,ticks:'inside',ticklen:11,tickwidth:1.5,tickcolor:DARK,minor:{dtick:1,ticks:'inside',ticklen:5,tickcolor:DARK,showgrid:false},showline:true,mirror:true,linecolor:DARK,linewidth:1.5,showgrid:false,zeroline:false,tickfont:boldFont(15.5),fixedrange:true};
  const levels=paletteColors.map((c,k)=>(k+.5)*effMax/20);
  traces.push({type:'heatmap',x:[0],y:levels,z:levels.map(v=>[v]),xaxis:'x'+b,yaxis:'y'+b,colorscale,zmin:0,zmax:effMax,showscale:false,hoverinfo:'skip'});
  layout['xaxis'+b]={domain:[px(P.cb[0]),px(P.cb[1])],range:[-.5,.5],anchor:'y'+b,visible:false,fixedrange:true};
  layout['yaxis'+b]={domain:[py(P.b),py(P.t)],range:[0,effMax],anchor:'x'+b,side:'right',dtick:.2,tick0:0,ticks:'inside',ticklen:P.cb[1]-P.cb[0],tickwidth:1,tickcolor:'#000',showticklabels:false,showline:true,linecolor:'#222',linewidth:1,showgrid:false,zeroline:false,fixedrange:true};

  annotations.push({xref:'paper',yref:'paper',x:px(P.l-42),y:py(P.t+16),text:'Y, cm',textangle:-90,showarrow:false,font:boldFont(15.5),xanchor:'center',yanchor:'middle'});
  annotations.push({xref:'paper',yref:'paper',x:px(P.r),y:py(P.b+25),text:'X, cm',showarrow:false,font:boldFont(15.5),xanchor:'right',yanchor:'middle'});
  annotations.push({xref:'paper',yref:'paper',x:px((P.tb[0]+P.tb[1])/2),y:py((P.tb[2]+P.tb[3])/2),text:stationNames[P.n],showarrow:false,font:boldFont(12.5),xanchor:'center',yanchor:'middle',bgcolor:'#f0f0f0',bordercolor:'#222',borderwidth:1.5,borderpad:0,width:P.tb[1]-P.tb[0]-3,height:P.tb[3]-P.tb[2]-3});
  annotations.push({xref:'paper',yref:'paper',x:px(P.st[0]),y:py(P.st[1]),text:'st'+(P.n+1),showarrow:false,font:{family:'Open Sans, Noto Sans, sans-serif',size:43,color:'#000'},xanchor:'center',yanchor:'middle'});

  const S=P.sb,h=S[3]-S[2];
  shapes.push({type:'rect',xref:'paper',yref:'paper',x0:px(S[0]),x1:px(S[1]),y0:py(S[2]),y1:py(S[3]),fillcolor:'#f0f0f0',line:{color:'#222',width:1.5},layer:'above'});
  shapes.push({type:'line',xref:'paper',yref:'paper',x0:px(S[0]),x1:px(S[1]),y0:py(S[2]+h*.17),y1:py(S[2]+h*.17),line:{color:'#333',width:1},layer:'above'});
  const sf={family:'Liberation Sans, Arial, sans-serif',size:9.5,color:'#000',weight:400};
  annotations.push({xref:'paper',yref:'paper',x:px((S[0]+S[1])/2),y:py(S[2]+h*.085),text:'eff_sum'+(P.n+1),showarrow:false,font:sf,xanchor:'center',yanchor:'middle'});
  const vals=P.mc?[mcEntries,mcMeanX,mcMeanY,mcRmsX,mcRmsY]:[dataEntries,dataMeanX,dataMeanY,dataRmsX,dataRmsY];
  const rows=[.26,.43,.58,.75,.91];
  statLabels.forEach((t,k)=>{
    annotations.push({xref:'paper',yref:'paper',x:px(S[0]+4),y:py(S[2]+h*rows[k]),text:t,showarrow:false,font:sf,xanchor:'left',yanchor:'middle'});
    annotations.push({xref:'paper',yref:'paper',x:px(S[1]-4),y:py(S[2]+h*rows[k]),text:vals[k][P.n],showarrow:false,font:sf,xanchor:'right',yanchor:'middle'});
  });
});

Object.assign(layout,{width:W_PX,height:H_PX,margin:{l:0,r:0,t:0,b:0,pad:0},paper_bgcolor:'#fff',plot_bgcolor:'#fff',showlegend:false,shapes,annotations});
Plotly.newPlot('c',traces,layout,{displayModeBar:false,staticPlot:true});
</script></body></html>
